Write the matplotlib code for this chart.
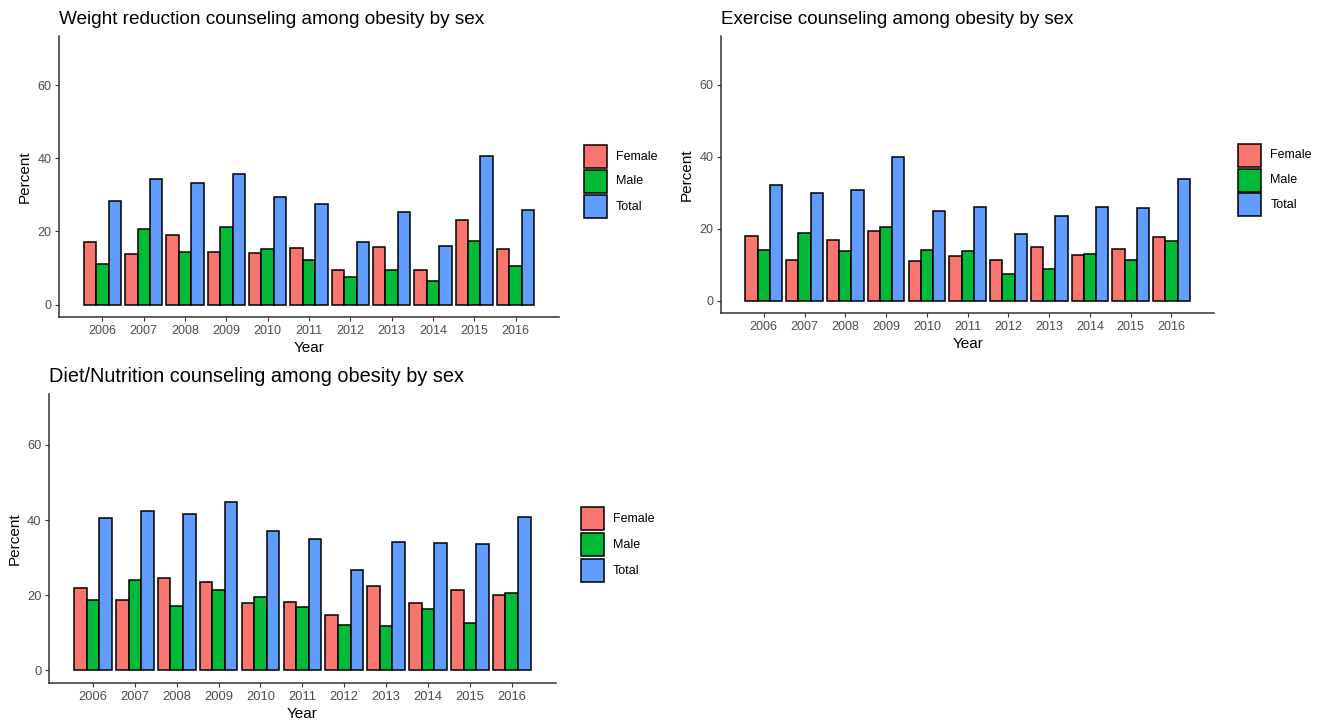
import matplotlib
matplotlib.use("Agg")
import matplotlib.pyplot as plt
from matplotlib.patches import Rectangle
import numpy as np

plt.rcParams["font.family"] = ["Liberation Sans", "DejaVu Sans"]

years = [2006, 2007, 2008, 2009, 2010, 2011, 2012, 2013, 2014, 2015, 2016]
groups = ["Female", "Male", "Total"]
group_colors = ["#F8766D", "#00BA38", "#619CFF"]

weight_female = [17.1, 13.7, 18.9, 14.4, 14.1, 15.5, 9.5, 15.8, 9.4, 23.2, 15.3]
weight_male = [11.0, 20.6, 14.3, 21.2, 15.1, 12.2, 7.6, 9.4, 6.5, 17.5, 10.5]
weight_total = [28.2, 34.4, 33.3, 35.7, 29.3, 27.6, 17.2, 25.4, 16.1, 40.7, 25.8]

exercise_female = [17.9, 11.2, 16.9, 19.3, 10.9, 12.5, 11.3, 14.8, 12.6, 14.3, 17.6]
exercise_male = [14.1, 18.7, 13.8, 20.6, 14.0, 13.7, 7.3, 8.7, 13.1, 11.4, 16.5]
exercise_total = [32.2, 30.0, 30.8, 40.0, 25.0, 26.1, 18.5, 23.6, 25.9, 25.7, 33.9]

diet_female = [21.9, 18.6, 24.6, 23.6, 17.8, 18.2, 14.6, 22.3, 17.9, 21.3, 20.1]
diet_male = [18.7, 23.9, 17.0, 21.3, 19.4, 16.9, 12.0, 11.7, 16.2, 12.5, 20.5]
diet_total = [40.6, 42.3, 41.6, 44.7, 37.2, 35.0, 26.6, 34.1, 33.9, 33.7, 40.7]

W, H = 1327, 725
fig = plt.figure(figsize=(W / 100, H / 100), dpi=100)
fig.patch.set_facecolor("white")


def px_box(left, top, right, bottom):
    return [left / W, (H - bottom) / H, (right - left) / W, (bottom - top) / H]


def draw_panel(box, title, series, legend_x, legend_ytop, legend_pitch,
               title_size=13.5, tick_size=9):
    ax = fig.add_axes(px_box(*box))
    x = np.array(years, dtype=float)
    width = 0.3
    for i, (vals, col) in enumerate(zip(series, group_colors)):
        ax.bar(x + (i - 1) * width, vals, width=width, color=col,
               edgecolor="black", linewidth=1.1, zorder=2)
    ax.set_xlim(years[0] - 1.05, years[-1] + 1.05)
    ax.set_ylim(-3.5, 73.5)
    ax.set_xticks(years)
    ax.set_xticklabels([str(y) for y in years])
    ax.set_yticks([0, 20, 40, 60])
    for side in ("top", "right"):
        ax.spines[side].set_visible(False)
    for side in ("left", "bottom"):
        ax.spines[side].set_color("#333333")
        ax.spines[side].set_linewidth(1.1)
    ax.tick_params(axis="both", colors="#333333", length=3, width=0.8,
                   labelsize=tick_size, labelcolor="#4D4D4D", pad=2.5)
    ax.set_xlabel("Year", fontsize=11, labelpad=3)
    ax.set_ylabel("Percent", fontsize=11, labelpad=4)
    ax.set_title(title, loc="left", fontsize=title_size, pad=8.5)

    # legend keys
    kw = 23
    for i, (name, col) in enumerate(zip(groups, group_colors)):
        top = legend_ytop + i * legend_pitch
        rect = Rectangle((legend_x / W, (H - top - kw) / H), kw / W, kw / H,
                         transform=fig.transFigure, facecolor=col,
                         edgecolor="black", linewidth=1.1)
        fig.add_artist(rect)
        fig.text((legend_x + kw + 9) / W, (H - top - kw / 2) / H, name,
                 fontsize=9, va="center", ha="left")
    return ax


draw_panel((59, 36, 559, 317.3), "Weight reduction counseling among obesity by sex",
           [weight_female, weight_male, weight_total], 584, 145, 25,
           title_size=13.7)
draw_panel((721, 36, 1214.3, 313.3), "Exercise counseling among obesity by sex",
           [exercise_female, exercise_male, exercise_total], 1238.3, 144, 24.7,
           title_size=13.5)
draw_panel((49, 394.3, 555.7, 683.3), "Diet/Nutrition counseling among obesity by sex",
           [diet_female, diet_male, diet_total], 581, 507, 26,
           title_size=14.3, tick_size=9.3)

fig.savefig("out.png", dpi=100, facecolor="white")
